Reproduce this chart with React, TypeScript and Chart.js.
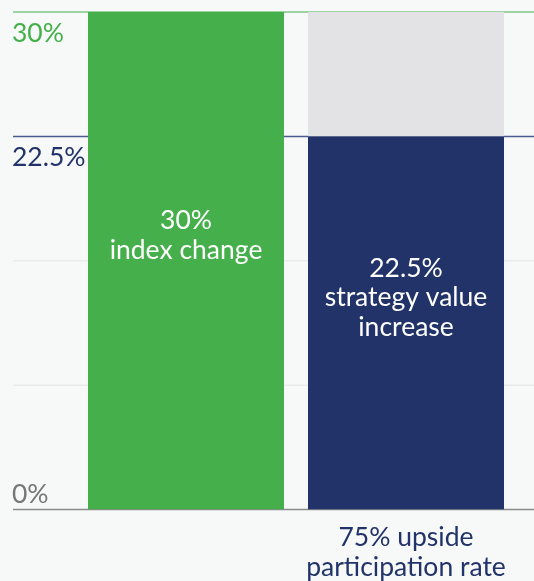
import React, { useEffect, useRef } from "react";
import { Chart, registerables } from "chart.js";

Chart.register(...registerables);

const categories = ["index", "strategy"];
const indexChange = [30, null];
const strategyValue = [null, 22.5];
const remainderCap = [null, 7.5];
const yTicks = [0, 7.5, 15, 22.5, 30];
const yLabels = [
  { value: 30, text: "30%", color: "#45b04b", below: true },
  { value: 22.5, text: "22.5%", color: "#223369", below: true },
  { value: 0, text: "0%", color: "#777777", below: false },
];
const barTexts = [
  ["30%", "index change"],
  ["22.5%", "strategy value", "increase"],
];
const barTextCenters = [16.5, 12.75];
const xLabels = [[], ["75% upside", "participation rate"]];

const FONT = "Lato, 'Open Sans', sans-serif";

export default function App() {
  const ref = useRef<HTMLCanvasElement | null>(null);

  useEffect(() => {
    document.body.style.margin = "0";
    document.body.style.background = "#f7f8f8";
    const canvas = ref.current;
    if (!canvas) return;

    const overlay = {
      id: "overlay",
      beforeDatasetsDraw(chart: any) {
        const ctx = chart.ctx;
        const y = chart.scales.y;
        const left = 13;
        const right = chart.width;
        ctx.save();
        yTicks.forEach((v) => {
          const py = y.getPixelForValue(v);
          let color = "#e9ebea";
          let w = 1.5;
          if (v === 30) { color = "#45b04b"; w = 1; }
          else if (v === 22.5) { color = "#4a5c8e"; w = 1.5; }
          else if (v === 0) { color = "#8a8a8a"; w = 1.5; }
          ctx.strokeStyle = color;
          ctx.lineWidth = w;
          ctx.beginPath();
          ctx.moveTo(left, py);
          ctx.lineTo(right, py);
          ctx.stroke();
        });
        ctx.restore();
      },
      afterDatasetsDraw(chart: any) {
        const ctx = chart.ctx;
        const x = chart.scales.x;
        const y = chart.scales.y;
        ctx.save();
        ctx.font = `400 26.5px ${FONT}`;
        ctx.textBaseline = "alphabetic";
        ctx.textAlign = "left";
        yLabels.forEach((l) => {
          const py = y.getPixelForValue(l.value);
          ctx.fillStyle = l.color;
          ctx.fillText(l.text, 12, l.below ? py + 29.5 : py - 7);
        });
        ctx.textAlign = "center";
        ctx.fillStyle = "#ffffff";
        barTexts.forEach((lines, i) => {
          const cx = x.getPixelForValue(i);
          const cy = y.getPixelForValue(barTextCenters[i]);
          const lh = 29.5;
          const n = lines.length;
          lines.forEach((t, j) => {
            const by = cy + (j - (n - 1) / 2) * lh + 8;
            ctx.fillText(t, cx, by);
          });
        });
        ctx.fillStyle = "#223369";
        xLabels.forEach((lines, i) => {
          const cx = x.getPixelForValue(i);
          const base = y.getPixelForValue(0);
          lines.forEach((t, j) => {
            ctx.fillText(t, cx, base + 36 + j * 30);
          });
        });
        ctx.restore();
      },
    };

    const chart = new Chart(canvas, {
      type: "bar",
      data: {
        labels: categories,
        datasets: [
          { data: indexChange, backgroundColor: "#45b04b" },
          { data: strategyValue, backgroundColor: "#223369" },
          { data: remainderCap, backgroundColor: "#e3e3e5" },
        ],
      },
      options: {
        animation: false,
        responsive: false,
        maintainAspectRatio: false,
        layout: { padding: { top: 12, bottom: 71.5, left: 76, right: 18 } },
        plugins: { legend: { display: false }, tooltip: { enabled: false } },
        datasets: { bar: { categoryPercentage: 1, barPercentage: 0.891, skipNull: true } },
        scales: {
          x: { display: false, stacked: true, offset: true },
          y: { display: false, stacked: true, min: 0, max: 30 },
        },
      } as any,
      plugins: [overlay],
    });
    return () => chart.destroy();
  }, []);

  return (
    <div style={{ width: 534, height: 581, background: "#f7f8f8" }}>
      <canvas ref={ref} width={534} height={581} style={{ display: "block" }} />
    </div>
  );
}
